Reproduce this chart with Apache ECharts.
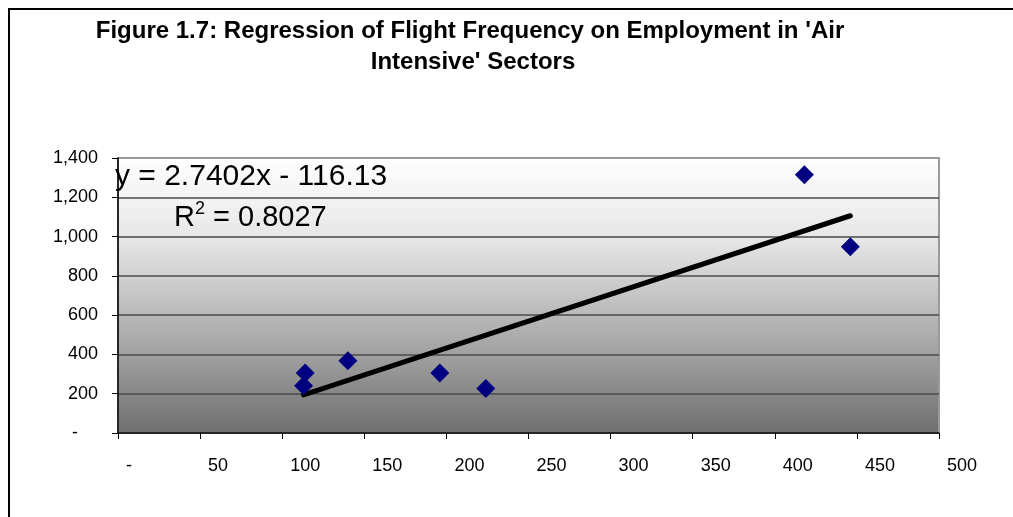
<!DOCTYPE html>
<html>
<head>
<meta charset="utf-8">
<script src="https://cdn.jsdelivr.net/npm/echarts@6/dist/echarts.min.js"></script>
<style>
html,body{margin:0;padding:0;background:#fff;}
#chart{width:1013px;height:517px;}
</style>
</head>
<body>
<div id="chart"></div>
<script>
// Data
const titleLines = ["Figure 1.7: Regression of Flight Frequency on Employment in 'Air", "Intensive' Sectors"];
const employment = [113, 114, 140, 196, 224, 418, 446];
const flights = [241, 305, 368, 305, 226, 1315, 948];
const trendCoef = [2.7402, -116.13]; // slope, intercept
const equationText = "y = 2.7402x - 116.13";
const r2Text = "0.8027";
const xTicks = [0, 50, 100, 150, 200, 250, 300, 350, 400, 450, 500];
const yTicks = [0, 200, 400, 600, 800, 1000, 1200, 1400];

const FONT = "'Liberation Sans', Arial, sans-serif";
const chart = echarts.init(document.getElementById('chart'));

const points = employment.map((x, i) => [x, flights[i]]);
const xMin = Math.min(...employment), xMax = Math.max(...employment);
const trend = [xMin, xMax].map(x => [x, trendCoef[0] * x + trendCoef[1]]);

function fmt(v) {
  if (v === 0) return '-';
  return v.toLocaleString('en-US');
}

chart.setOption({
  animation: false,
  backgroundColor: '#fff',
  grid: {
    left: 118, right: 74, top: 158, bottom: 84,
    show: true,
    borderColor: '#9a9a9a',
    borderWidth: 2,
    backgroundColor: new echarts.graphic.LinearGradient(0, 0, 0, 1, [
      {offset: 0, color: '#ffffff'},
      {offset: 0.3, color: '#e6e6e6'},
      {offset: 0.6, color: '#b4b4b4'},
      {offset: 1, color: '#6e6e6e'}
    ])
  },
  xAxis: {
    type: 'value',
    min: xTicks[0], max: xTicks[xTicks.length - 1], interval: 50,
    axisLine: {show: true, onZero: false, lineStyle: {color: '#000', width: 1.5}},
    axisTick: {show: true, length: 6, lineStyle: {color: '#000', width: 1}},
    splitLine: {show: false},
    axisLabel: {
      color: '#000', fontSize: 18, fontFamily: FONT, margin: 24,
      align: 'left', padding: [0, 0, 0, 8],
      formatter: fmt
    }
  },
  yAxis: {
    type: 'value',
    min: yTicks[0], max: yTicks[yTicks.length - 1], interval: 200,
    axisLine: {show: true, onZero: false, lineStyle: {color: '#000', width: 1.5}},
    axisTick: {show: true, length: 6, lineStyle: {color: '#000', width: 1}},
    splitLine: {show: true, showMinLine: false, showMaxLine: false, lineStyle: {color: '#4a4a4a', width: 1.5}},
    axisLabel: {
      color: '#000', fontSize: 18, fontFamily: FONT, margin: 20,
      formatter: v => v === 0 ? '{z|-}' : fmt(v),
      rich: {z: {fontSize: 18, fontFamily: FONT, color: '#000', padding: [0, 20, 0, 0]}}
    }
  },
  series: [
    {
      type: 'line',
      data: trend,
      symbol: 'none',
      lineStyle: {color: '#000', width: 5, cap: 'round'},
      z: 2
    },
    {
      type: 'scatter',
      data: points,
      symbol: 'diamond',
      symbolSize: 19,
      itemStyle: {color: '#000080', opacity: 1},
      z: 3
    }
  ],
  graphic: [
    {
      type: 'rect', silent: true, z: -1,
      shape: {x: 9, y: 9, width: 1030, height: 540},
      style: {fill: 'none', stroke: '#000', lineWidth: 2}
    },
    {
      type: 'text', x: 470, y: 31, z: 10,
      style: {
        text: titleLines[0], fill: '#000', fontSize: 24, fontWeight: 'bold', fontFamily: FONT,
        align: 'center', verticalAlign: 'middle'
      }
    },
    {
      type: 'text', x: 473, y: 62, z: 10,
      style: {
        text: titleLines[1], fill: '#000', fontSize: 24, fontWeight: 'bold', fontFamily: FONT,
        align: 'center', verticalAlign: 'middle'
      }
    },
    {
      type: 'text', x: 115, y: 177, z: 10,
      style: {text: equationText, fill: '#000', fontSize: 30, fontFamily: FONT, align: 'left', verticalAlign: 'middle'}
    },
    {
      type: 'text', x: 174, y: 216, z: 10,
      style: {
        text: '{a|R}{s|2}{a| = ' + r2Text + '}', align: 'left', verticalAlign: 'middle',
        rich: {
          a: {fontSize: 29, fontFamily: FONT, fill: '#000', color: '#000', lineHeight: 32, verticalAlign: 'bottom'},
          s: {fontSize: 18, fontFamily: FONT, fill: '#000', color: '#000', lineHeight: 28, verticalAlign: 'top'}
        }
      }
    }
  ]
});
</script>
</body>
</html>
